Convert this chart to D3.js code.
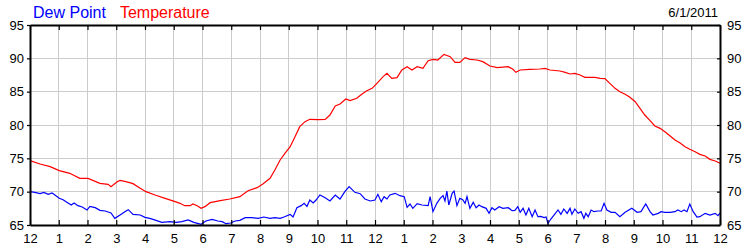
<!DOCTYPE html>
<html>
<head>
<meta charset="utf-8">
<script src="https://cdn.jsdelivr.net/npm/d3@7"></script>
<style>
  body { margin: 0; background: #fff; }
  svg text { font-family: "Liberation Sans", Arial, sans-serif; }
</style>
</head>
<body>
<div id="chart-area"></div>
<script>
// minutes after midnight, 6/1/2011
var tempMinutes = [0, 21, 42, 61, 83, 104, 121, 146, 163, 169, 182, 188, 200, 215, 230, 242, 261, 282, 303, 313,
  323, 334, 340, 349, 357, 365, 376, 397, 417, 438, 455, 474, 486, 501, 511, 522, 532, 543, 553, 563,
  574, 584, 601, 616, 626, 637, 647, 659, 668, 682, 693, 703, 714, 724, 737, 745, 755, 766, 776, 787,
  797, 808, 820, 831, 841, 851, 864, 877, 887, 897, 908, 918, 933, 945, 960, 975, 998, 1008, 1014, 1023,
  1043, 1064, 1075, 1085, 1106, 1117, 1127, 1137, 1148, 1158, 1179, 1190, 1200, 1210, 1221, 1231, 1242, 1252, 1263, 1273,
  1283, 1294, 1304, 1315, 1325, 1336, 1346, 1356, 1367, 1377, 1388, 1398, 1409, 1419, 1430, 1440];
var tempValues = [74.65, 74.15, 73.75, 73.15, 72.75, 72.0, 72.0, 71.25, 71.1, 70.75, 71.5, 71.7, 71.5, 71.2, 70.5, 70.0, 69.5, 69.0, 68.5, 68.25,
  67.9, 67.9, 68.15, 67.9, 67.5, 67.75, 68.35, 68.65, 68.9, 69.25, 70.15, 70.6, 71.15, 72.0, 73.25, 74.75, 75.75, 76.75, 78.25, 79.75,
  80.5, 80.85, 80.8, 80.85, 81.5, 82.85, 83.15, 83.9, 83.65, 84.0, 84.65, 85.15, 85.5, 86.25, 87.25, 87.75, 87.0, 87.1, 88.25, 88.75,
  88.25, 88.75, 88.5, 89.65, 89.85, 89.75, 90.6, 90.25, 89.4, 89.4, 90.1, 89.85, 89.75, 89.5, 88.85, 88.6, 88.75, 88.35, 87.9, 88.25,
  88.35, 88.4, 88.5, 88.25, 88.1, 87.9, 87.65, 87.75, 87.5, 87.15, 87.15, 87.0, 86.95, 86.25, 85.5, 85.0, 84.6, 84.15, 83.5, 82.5,
  81.5, 80.65, 79.85, 79.5, 79.0, 78.35, 77.75, 77.35, 76.75, 76.35, 76.0, 75.6, 75.35, 74.85, 74.6, 74.25];

var dewMinutes = [0, 10, 21, 29, 38, 46, 52, 61, 69, 77, 86, 92, 100, 109, 119, 125, 136, 146, 157, 169,
  177, 188, 198, 205, 215, 230, 240, 250, 263, 275, 292, 305, 317, 330, 342, 357, 367, 380, 392, 401,
  409, 419, 428, 438, 449, 463, 476, 488, 501, 511, 522, 530, 543, 549, 557, 566, 572, 578, 584, 591,
  597, 605, 616, 626, 637, 647, 657, 666, 678, 689, 699, 710, 720, 726, 733, 739, 745, 751, 762, 772,
  781, 787, 793, 799, 808, 818, 831, 835, 841, 849, 856, 862, 866, 870, 874, 881, 885, 891, 897, 903,
  908, 912, 918, 925, 931, 937, 943, 952, 958, 964, 970, 979, 987, 998, 1006, 1012, 1018, 1023, 1029, 1035,
  1041, 1048, 1054, 1060, 1066, 1073, 1077, 1081, 1087, 1096, 1102, 1108, 1114, 1121, 1127, 1131, 1137, 1144, 1150, 1156,
  1160, 1165, 1171, 1177, 1185, 1192, 1198, 1204, 1213, 1221, 1231, 1242, 1256, 1267, 1275, 1285, 1294, 1300, 1311, 1317,
  1325, 1336, 1346, 1352, 1359, 1365, 1371, 1377, 1384, 1392, 1398, 1409, 1419, 1430, 1436, 1440];
var dewValues = [70.0, 69.9, 69.7, 69.9, 69.6, 69.8, 69.5, 69.0, 68.8, 68.4, 68.0, 68.3, 67.9, 67.7, 67.25, 67.8, 67.6, 67.2, 67.1, 66.8,
  66.0, 66.5, 67.0, 67.3, 66.6, 66.5, 66.15, 66.0, 65.7, 65.4, 65.5, 65.4, 65.5, 65.75, 65.4, 65.1, 65.6, 65.85, 65.6, 65.5,
  65.2, 65.3, 65.6, 65.7, 66.1, 66.1, 66.0, 66.2, 66.0, 66.1, 66.0, 66.2, 66.6, 66.2, 67.6, 67.9, 68.25, 67.8, 68.75, 68.3,
  68.75, 69.5, 69.1, 68.6, 69.5, 68.9, 70.0, 70.75, 69.9, 69.7, 68.9, 68.6, 68.75, 69.6, 68.5, 69.25, 68.9, 69.5, 69.75, 69.4,
  69.25, 67.65, 68.15, 67.5, 68.2, 68.0, 67.9, 69.25, 67.0, 68.25, 69.0, 69.4, 68.6, 70.1, 68.0, 69.75, 70.1, 67.9, 69.0, 68.8,
  68.25, 69.25, 67.5, 68.4, 67.6, 68.0, 67.75, 67.5, 66.75, 67.6, 67.25, 67.75, 67.5, 67.6, 67.15, 67.2, 67.75, 66.9, 67.5, 66.5,
  67.5, 66.25, 67.25, 66.25, 66.3, 66.1, 66.2, 65.25, 65.9, 66.7, 67.25, 66.6, 67.4, 66.75, 67.5, 66.6, 67.4, 66.75, 67.0, 66.0,
  66.75, 66.25, 67.25, 67.0, 67.1, 67.1, 68.25, 67.25, 66.9, 66.9, 66.25, 66.9, 67.5, 66.9, 67.0, 68.15, 67.0, 66.5, 66.75, 67.0,
  66.9, 66.9, 67.0, 67.25, 67.0, 67.25, 67.0, 68.15, 67.0, 66.2, 66.25, 66.75, 66.5, 66.75, 66.4, 66.8];

var hourLabels = ["12", "1", "2", "3", "4", "5", "6", "7", "8", "9", "10", "11",
                  "12", "1", "2", "3", "4", "5", "6", "7", "8", "9", "10", "11", "12"];
var yTicks = [65, 70, 75, 80, 85, 90, 95];
var seriesNames = ["Dew Point", "Temperature"];
var dateLabel = "6/1/2011";

var margin = { top: 25, left: 30, bottom: 25, right: 30 };
var svgWidth = 750;
var svgHeight = 250;
var width = svgWidth - margin.left - margin.right;
var height = svgHeight - margin.top - margin.bottom;

var svg = d3.select("#chart-area").append("svg")
            .attr("width", svgWidth)
            .attr("height", svgHeight);

var graph = svg.append("g")
               .attr("transform", "translate(" + margin.left + "," + margin.top + ")");

var xScale = d3.scaleLinear().domain([0, 1440]).range([0, width]);
var yScale = d3.scaleLinear().domain([65, 95]).range([height, 0]);
var hourTicks = d3.range(0, 1441, 60);

// grid
graph.append("g")
     .attr("class", "grid-x")
     .selectAll("line")
     .data(hourTicks)
     .enter().append("line")
     .attr("x1", d => xScale(d)).attr("x2", d => xScale(d))
     .attr("y1", 0).attr("y2", height)
     .attr("stroke", "#cccccc").attr("stroke-width", 1)
     .attr("shape-rendering", "crispEdges");

graph.append("g")
     .attr("class", "grid-y")
     .selectAll("line")
     .data(yTicks)
     .enter().append("line")
     .attr("x1", 0).attr("x2", width)
     .attr("y1", d => yScale(d)).attr("y2", d => yScale(d))
     .attr("stroke", "#cccccc").attr("stroke-width", 1)
     .attr("shape-rendering", "crispEdges");

// lines
var line = d3.line()
             .x(d => xScale(d[0]))
             .y(d => yScale(d[1]));

graph.append("path")
     .datum(d3.zip(dewMinutes, dewValues))
     .attr("fill", "none")
     .attr("stroke", "#0000ff")
     .attr("stroke-width", 1.2)
     .attr("d", line);

graph.append("path")
     .datum(d3.zip(tempMinutes, tempValues))
     .attr("fill", "none")
     .attr("stroke", "#ff0000")
     .attr("stroke-width", 1.2)
     .attr("d", line);

// axes
var xBottom = d3.axisBottom(xScale)
                .tickValues(hourTicks)
                .tickSizeInner(-5).tickSizeOuter(0)
                .tickPadding(9)
                .tickFormat((d, i) => hourLabels[i]);

var xTop = d3.axisTop(xScale)
             .tickValues(hourTicks)
             .tickSizeInner(-5).tickSizeOuter(0)
             .tickFormat("");

var yLeft = d3.axisLeft(yScale)
              .tickValues(yTicks)
              .tickSizeInner(3).tickSizeOuter(0)
              .tickPadding(3)
              .tickFormat(d => d);

var yRight = d3.axisRight(yScale)
               .tickValues(yTicks)
               .tickSizeInner(-3).tickSizeOuter(0)
               .tickPadding(7)
               .tickFormat(d => d);

function styleAxis(g) {
  g.selectAll("path").attr("stroke", "#000").attr("stroke-width", 2);
  g.selectAll("line").attr("stroke", "#000").attr("stroke-width", 1.2);
  g.selectAll("text").attr("font-size", "13px").attr("fill", "#000");
}

graph.append("g")
     .attr("class", "x-axis")
     .attr("transform", "translate(0," + height + ")")
     .call(xBottom)
     .call(styleAxis);

graph.append("g")
     .attr("class", "x-axis-top")
     .call(xTop)
     .call(styleAxis);

graph.append("g")
     .attr("class", "y-axis")
     .call(yLeft)
     .call(styleAxis);

graph.append("g")
     .attr("class", "y-axis-right")
     .attr("transform", "translate(" + width + ",0)")
     .call(yRight)
     .call(styleAxis);

// legend
var legend = svg.append("text")
                .attr("x", 33)
                .attr("y", 18)
                .attr("font-size", "16px");
legend.append("tspan").attr("fill", "#0000ff").text(seriesNames[0]);
legend.append("tspan").attr("fill", "#ff0000").attr("dx", 14).text(seriesNames[1]);

svg.append("text")
   .attr("x", 718)
   .attr("y", 17)
   .attr("text-anchor", "end")
   .attr("font-size", "13px")
   .attr("fill", "#000")
   .text(dateLabel);
</script>
</body>
</html>
